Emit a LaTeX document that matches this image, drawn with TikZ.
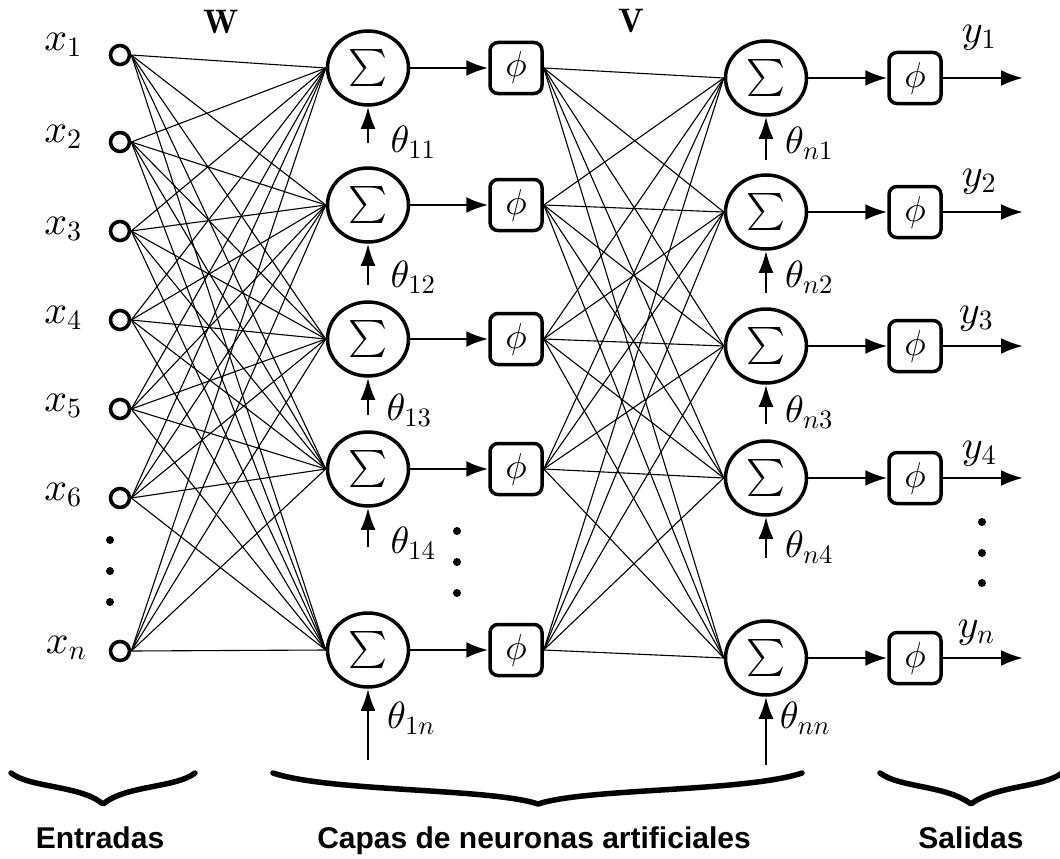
\documentclass[tikz,border=0pt]{standalone}
\usepackage{fontspec}
\DeclareFontShape{OML}{cmm}{m}{it}{<-> cmmi10}{}
\DeclareFontShape{OMS}{cmsy}{m}{n}{<-> cmsy10}{}
\DeclareFontShape{OMX}{cmex}{m}{n}{<-> cmex10}{}
\DeclareFontShape{OT1}{cmr}{m}{n}{<-> cmr10}{}
\DeclareFontShape{OT1}{cmr}{bx}{n}{<-> cmbx10}{}
\newfontfamily\labfont{Liberation Sans}
\usetikzlibrary{shapes.geometric,arrows.meta}
\begin{document}
\begin{tikzpicture}[x=1pt,y=-1pt,
  every node/.style={inner sep=0pt, font=\fontsize{38}{42}\selectfont},
  iolbl/.style={font=\fontsize{40}{44}\selectfont},
  inp/.style={circle, draw, line width=3.6pt, minimum size=19pt},
  sumnode/.style={ellipse, draw, line width=3.5pt, minimum width=81pt, minimum height=74pt, font=\fontsize{37}{40}\selectfont},
  phibox/.style={rectangle, rounded corners=8pt, draw, line width=3.5pt, minimum width=52pt, minimum height=51pt, font=\fontsize{36}{40}\selectfont},
  wire/.style={line width=1.1pt},
  flow/.style={line width=2.6pt, -{Latex[length=22pt,width=16pt]}},
  bias/.style={line width=2.6pt, -{Latex[length=22pt,width=15pt]}},
  dotmark/.style={circle, fill, minimum size=8pt},
  bracestroke/.style={line width=5.5pt, line cap=round, line join=round},
  caption/.style={font={\labfont\bfseries\fontsize{30}{36}\selectfont}, anchor=base},
  matrixlbl/.style={font=\fontsize{34}{38}\selectfont}
]
\useasboundingbox (0,0) rectangle (1060,859);

% inputs
\foreach \i/\y in {1/55,2/142,3/231,4/320,5/409,6/498,7/651}
  \node[inp] (i\i) at (120,\y) {};
\node[iolbl] (lx1) at (63,45) {$x_1$};
\node[iolbl] (lx2) at (63,137) {$x_2$};
\node[iolbl] (lx3) at (63,229) {$x_3$};
\node[iolbl] (lx4) at (63,318) {$x_4$};
\node[iolbl] (lx5) at (63,406) {$x_5$};
\node[iolbl] (lx6) at (63,495) {$x_6$};
\node[iolbl] (lxn) at (66,648) {$x_n$};

% hidden layer
\foreach \k/\y in {1/68,2/205,3/339,4/469,5/650}{
  \node[sumnode] (h\k) at (368,\y) {$\sum$};
  \node[phibox] (hp\k) at (516,\y) {$\phi$};
  \draw[flow] (h\k) -- (hp\k);
}
% output layer
\foreach \k/\y in {1/78,2/212,3/346,4/478,5/658}{
  \node[sumnode] (o\k) at (766,\y) {$\sum$};
  \node[phibox] (op\k) at (915,\y) {$\phi$};
  \coordinate (out\k) at (1023,\y);
  \draw[flow] (o\k) -- (op\k);
  \draw[flow] (op\k) -- (out\k);
}

% weights W
\foreach \i in {1,...,7}
  \foreach \k in {1,...,5}
    \draw[wire] (i\i.east) -- (h\k.west);
% weights V
\foreach \i in {1,...,5}
  \foreach \k in {1,...,5}
    \draw[wire] (hp\i.east) -- (o\k.west);

% biases
\foreach \k/\y in {1/143,2/285,3/415,4/547,5/760}{
  \coordinate (bh\k) at (368,\y);
  \draw[bias] (bh\k) -- (h\k.south);
}
\foreach \k/\y in {1/160,2/293,3/424,4/558,5/765}{
  \coordinate (bo\k) at (766,\y);
  \draw[bias] (bo\k) -- (o\k.south);
}
\node (t11) at (413,142) {$\theta_{11}$};
\node (t12) at (413,277) {$\theta_{12}$};
\node (t13) at (409,410) {$\theta_{13}$};
\node (t14) at (413,543) {$\theta_{14}$};
\node (t1n) at (411,718) {$\theta_{1n}$};
\node (tn1) at (809,143) {$\theta_{n1}$};
\node (tn2) at (809,277) {$\theta_{n2}$};
\node (tn3) at (809,412) {$\theta_{n3}$};
\node (tn4) at (809,547) {$\theta_{n4}$};
\node (tnn) at (805,718) {$\theta_{nn}$};

% outputs labels
\node[iolbl] (ly1) at (979,38) {$y_1$};
\node[iolbl] (ly2) at (979,182) {$y_2$};
\node[iolbl] (ly3) at (976,319) {$y_3$};
\node[iolbl] (ly4) at (979,454) {$y_4$};
\node[iolbl] (lyn) at (976,633) {$y_n$};

% matrices
\node[matrixlbl] (W) at (221,22) {$\mathbf{W}$};
\node[matrixlbl] (V) at (631,21) {$\mathbf{V}$};

% dots
\foreach \j/\y in {1/540,2/571,3/602} \node[dotmark] (dl\j) at (110,\y) {};
\foreach \j/\y in {1/531,2/562,3/593} \node[dotmark] (dm\j) at (457,\y) {};
\foreach \j/\y in {1/522,2/553,3/583} \node[dotmark] (dr\j) at (982,\y) {};

% braces
\draw[bracestroke] (11,773) .. controls (30,788) and (80,785) .. (103,804)
                   .. controls (126,785) and (176,788) .. (195,773);
\draw[bracestroke] (273,773) .. controls (330,792) and (490,788) .. (538,804)
                   .. controls (586,788) and (745,792) .. (802,773);
\draw[bracestroke] (880,773) .. controls (900,788) and (946,785) .. (971,804)
                   .. controls (996,785) and (1042,788) .. (1062,773);
\node[caption] (c1) at (100,848) {Entradas};
\node[caption] (c2) at (534,848) {Capas de neuronas artificiales};
\node[caption] (c3) at (971,848) {Salidas};
\end{tikzpicture}
\end{document}
